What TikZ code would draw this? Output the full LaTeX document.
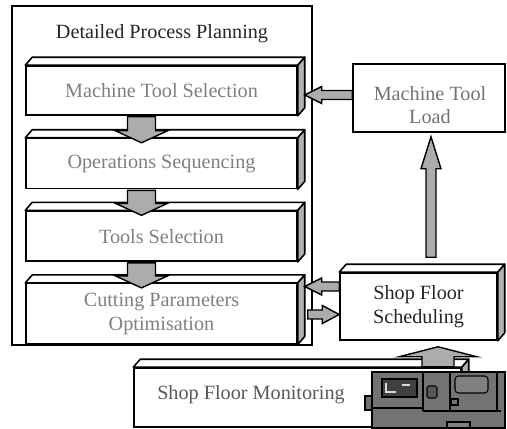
\documentclass[tikz,border=0pt]{standalone}
\usepackage{fontspec}
\setmainfont{Liberation Serif}
\usetikzlibrary{positioning, calc}

% one drawing unit is 0.02cm, in pt
\newcommand{\pxlen}{0.5690551pt}

\tikzset{
  txt/.style={font=\fontsize{11.5}{13.5}\selectfont},
  stage/.style={txt, draw, line width=0.9pt, fill=white, minimum width=5.42cm,
    minimum height=1cm, inner sep=0pt, text=black!50, align=center},
  plainbox/.style={txt, draw, line width=0.9pt, fill=white, inner sep=0pt, align=center},
  topface/.style={draw, line width=0.9pt, fill=white, line join=round},
  sideface/.style={draw, line width=0.9pt, fill=gray!60, line join=round},
  fatarrow/.style={draw, line width=0.8pt, fill=gray!65, line join=miter},
}

% top and side face of a box node
\newcommand{\extrude}[1]{%
  \draw[topface] (#1.north west) -- ++(7,-8) -- ($(#1.north east)+(7,-8)$) -- (#1.north east) -- cycle;
  \draw[sideface] (#1.north east) -- ++(7,-8) -- ($(#1.south east)+(7,-8)$) -- (#1.south east) -- cycle;
}

% block arrow: from, to, shaft half width, head half width, head length
\newcommand{\fatarrow}[5]{%
  \path[fatarrow] let \p1=(#1), \p2=(#2),
      \n1={atan2(\y2-\y1,\x2-\x1)}, \n2={veclen(\x2-\x1,\y2-\y1)} in
    (\p1) ++({\n1+90}:{#3*\pxlen}) -- ++(\n1:{\n2-#5*\pxlen})
    -- ++({\n1+90}:{(#4-#3)*\pxlen}) -- (\p2)
    -- ($(\p1)+(\n1:{\n2-#5*\pxlen})+({\n1-90}:{#4*\pxlen})$)
    -- ++({\n1+90}:{(#4-#3)*\pxlen})
    -- ($(\p1)+({\n1-90}:{#3*\pxlen})$) -- cycle;}

\begin{document}
\begin{tikzpicture}[x=0.02cm, y=-0.02cm]
\useasboundingbox (0,0) rectangle (507,429);

% process planning frame
\node[draw, line width=1pt, minimum width=6cm, minimum height=6.78cm] (planning) at (162,175.5) {};
\node[txt, text=black!85, below=0.26cm of planning.north] (title) {Detailed Process Planning};

\node[stage, minimum height=0.98cm] (b1) at (161.5,90.5) {Machine Tool Selection};
\node[stage, below=0.44cm of b1] (b2) {Operations Sequencing};
\node[stage, below=0.42cm of b2] (b3) {Tools Selection};
\node[stage, minimum height=1.2cm, below=0.42cm of b3] (b4) {Cutting Parameters\\Optimisation};
\extrude{b1}
\extrude{b2}
\extrude{b3}
\extrude{b4}

% shop floor side
\node[plainbox, text=black!55, minimum width=3.04cm, minimum height=1.36cm] (mtl) at (429,98) {};
\node[txt, text=black!55, align=center] (mtltxt) at (430,105) {Machine Tool\\Load};
\node[plainbox, text=black!85, minimum width=3.14cm, minimum height=1.34cm] (sfs) at (418.5,306.5) {Shop Floor\\Scheduling};
\extrude{sfs}
\node[plainbox, minimum width=6.54cm, minimum height=1.18cm] (sfm) at (297.5,397.5) {};
\extrude{sfm}
\node[txt, text=black!65] (montxt) at (251,395) {Shop Floor Monitoring};

% arrows
\fatarrow{$(b1.south)+(-20,1)$}{$(b2.north)+(-20,5)$}{14}{26}{12}
\fatarrow{$(b2.south)+(-20,1)$}{$(b3.north)+(-20,5)$}{14}{26}{12}
\fatarrow{$(b3.south)+(-20,1)$}{$(b4.north)+(-20,5)$}{14}{26}{12}
\fatarrow{$(mtl.west)+(0,-3)$}{$(mtl.west -| b1.east)+(7,-3)$}{4.5}{8.5}{17}
\fatarrow{$(sfs.west)+(0,-20)$}{$(sfs.west -| b4.east)+(7,-20)$}{4.5}{8.5}{17}
\fatarrow{$(sfs.west -| b4.east)+(10,8)$}{$(sfs.west)+(0,8)$}{4.5}{9}{17}
\fatarrow{$(mtl.south |- sfs.north)+(2,-15)$}{$(mtl.south)+(2,4)$}{5}{10}{32}
\fatarrow{$(sfs.south)+(19.5,26)$}{$(sfs.south)+(19.5,6)$}{16}{39}{10}

% machine tool
\begin{scope}[line width=0.6pt]
  \draw[fill=black!55] (365,396) rectangle (372,410);
  \draw[fill=black!55] (372,372) rectangle (505,428);
  \draw (372,408) -- (423,408) (423,411) -- (501,411);
  \draw (423,372) -- (423,411) (450,372) -- (450,411) (497,372) -- (497,411);
  \draw[fill=black!75] (382,379) rectangle (417,397);
  \draw[gray!30, line width=1pt] (387,392) -- (396,392) (402,385) -- (410,385) (386,383) -- (386,393);
  \draw[fill=black!65, rounded corners=1pt] (427,386) rectangle (437,398);
  \draw[fill=black!50, rounded corners=2pt] (455,376) rectangle (488,393);
  \draw (451,399) rectangle (458,405);
  \draw[fill=black!50] (447,422) rectangle (470,428);
\end{scope}
\end{tikzpicture}
\end{document}
